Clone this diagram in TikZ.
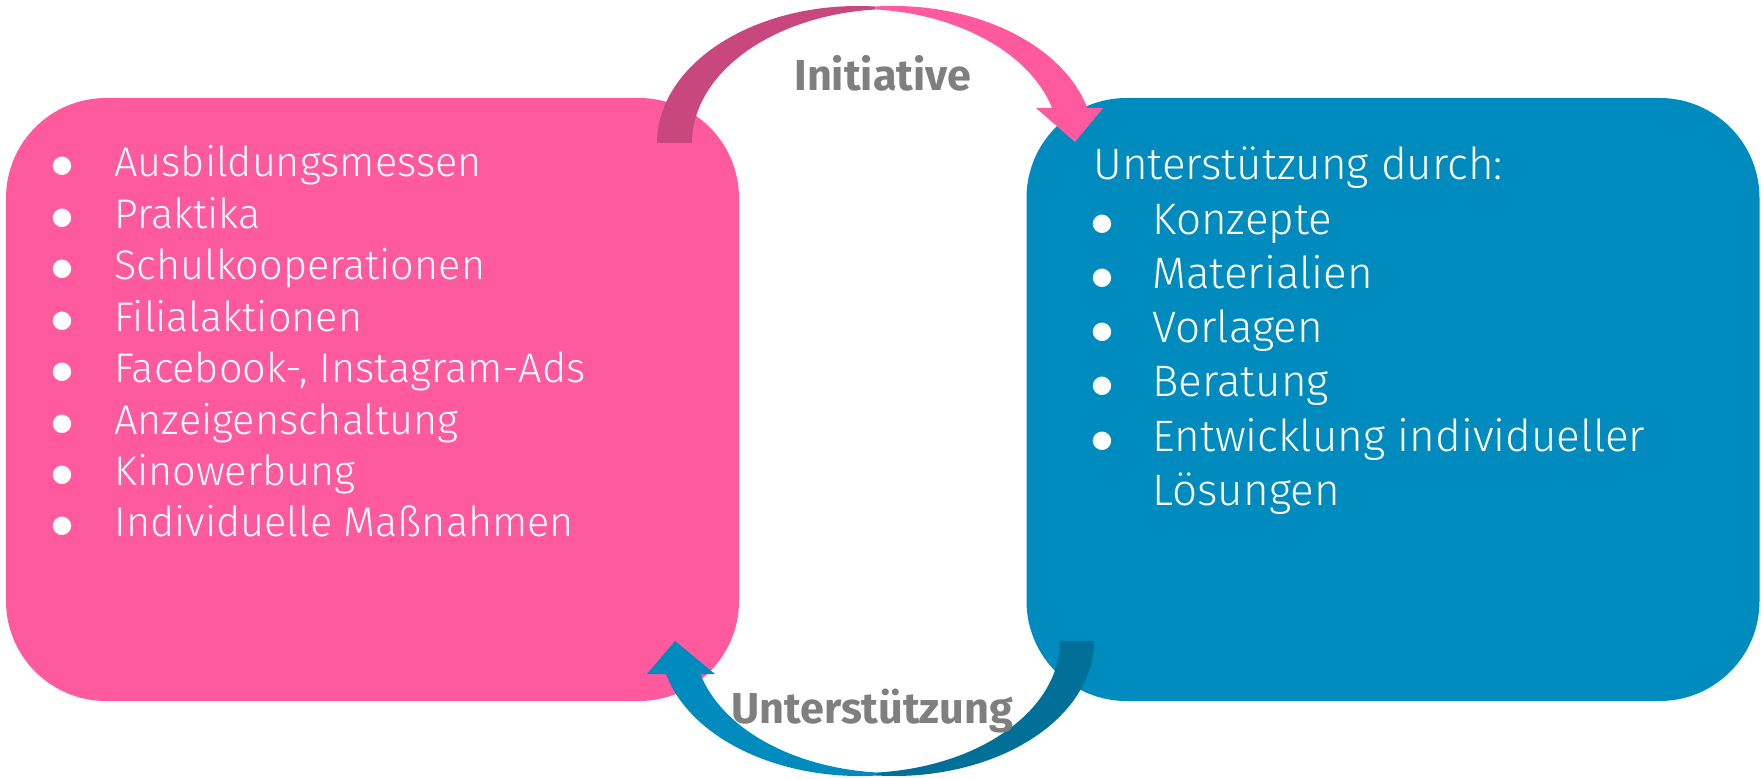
\documentclass[tikz,border=0pt]{standalone}
\usepackage{fontspec}
\setmainfont{Fira Sans}
\IfFontExistsTF{Fira Sans Light}{\newfontfamily\lightf{Fira Sans Light}}{\newfontfamily\lightf{Fira Sans}}
\newfontfamily\bulf{DejaVu Sans}
\definecolor{pinkc}{HTML}{FF5A9E}
\definecolor{pinkd}{HTML}{C8487D}
\definecolor{bluec}{HTML}{008BBE}
\definecolor{blued}{HTML}{007099}
\definecolor{grayt}{HTML}{7F7F7F}
\begin{document}
\begin{tikzpicture}[x=0.5pt,y=0.5pt,
  box/.style={rounded corners=50pt, inner sep=0pt, minimum width=366.5pt, minimum height=301.5pt},
  body/.style={text=white, inner sep=0pt, anchor=base west, font=\lightf\fontsize{20.7pt}{25pt}\selectfont},
  bodyr/.style={body, font=\lightf\fontsize{22pt}{26pt}\selectfont},
  bul/.style={text=white, inner sep=0pt, anchor=base, font=\bulf\fontsize{12pt}{12pt}\selectfont},
  lbl/.style={text=grayt, inner sep=0pt, anchor=base west, font=\bfseries\fontsize{21.6pt}{26pt}\selectfont}]
\useasboundingbox (0,0) rectangle (1761,778);
% boxes
\node[box, fill=pinkc] (left) at (372.5,378.5) {};
\node[box, fill=bluec] (right) at (1393,378.5) {};
% top arrow (Initiative)
\fill[pinkd] (657,635) arc[start angle=180, end angle=85, x radius=100.5pt, y radius=68.5pt]
  -- (875.5,768.5) arc[start angle=95, end angle=180, x radius=100.5pt, y radius=67pt] -- cycle;
\fill[pinkc] (875.5,771.5) arc[start angle=95, end angle=14.8, x radius=100.5pt, y radius=68.5pt]
  -- (1103,670) -- (1075,636) -- (1036,670) -- (1052.1,670)
  arc[start angle=15.1, end angle=85, x radius=100.5pt, y radius=67pt] -- cycle;
% bottom arrow (Unterstuetzung)
\fill[blued] (1094,137) arc[start angle=0, end angle=-95, x radius=100pt, y radius=67.5pt]
  -- (877.4,5.5) arc[start angle=-85, end angle=0, x radius=100pt, y radius=66pt] -- cycle;
\fill[bluec] (877.4,2.5) arc[start angle=-85, end angle=-165.85, x radius=100pt, y radius=67.5pt]
  -- (647,104) -- (675,137) -- (715,104) -- (700.4,104)
  arc[start angle=-165.52, end angle=-95, x radius=100pt, y radius=66pt] -- cycle;
% left list
\foreach \t [count=\i from 0] in {Ausbildungsmessen,Praktika,Schulkooperationen,Filialaktionen,{Facebook-, Instagram-Ads},Anzeigenschaltung,Kinowerbung,{Individuelle Maßnahmen}}{
  \node[bul] (lb\i) at (62,601+4-51.4*\i) {●};
  \node[body] (lt\i) at (114,601-51.4*\i) {\t};
}
% right list
\node[bodyr] (rh) at (1093,598) {Unterstützung durch:};
\foreach \t [count=\i from 1] in {Konzepte,Materialien,Vorlagen,Beratung,{Entwicklung individueller}}{
  \node[bul] (rb\i) at (1102,598+4-54.2*\i) {●};
  \node[bodyr] (rt\i) at (1152,598-54.2*\i) {\t};
}
\node[bodyr] (rt6) at (1152,598-54.2*6) {Lösungen};
% labels
\node[lbl] (init) at (794,687) {Initiative};
\node[lbl] (unter) at (731,55) {Unterstützung};
\end{tikzpicture}
\end{document}
